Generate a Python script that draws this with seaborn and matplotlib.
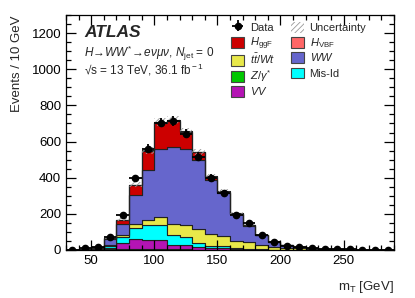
import numpy as np
import pandas as pd
import matplotlib
matplotlib.use('Agg')
import matplotlib.pyplot as plt
from matplotlib.patches import Patch, Rectangle
from matplotlib.legend_handler import HandlerPatch
from matplotlib.ticker import MultipleLocator
import seaborn as sns

# 10 GeV bins from 30 to 290 GeV
edges = np.arange(30, 300, 10)
centers = edges[:-1] + 5

# predicted events per bin
z_gamma = [0, 0.5, 2, 3, 4, 5, 5, 5, 4, 3, 2, 1.5, 1, 0.5, 0.3, 0.2, 0.1, 0.1, 0, 0, 0, 0, 0, 0, 0, 0]
vv = [0.3, 1, 3, 10, 36, 55, 50, 52, 22, 26, 14, 9, 8, 4, 2, 2, 1, 0.5, 0.3, 0.2, 0.1, 0, 0, 0, 0, 0]
mis_id = [0.3, 1, 3, 8, 32, 62, 83, 81, 55, 45, 25, 13, 13, 6, 3, 2, 1, 0.5, 0.3, 0.2, 0.1, 0, 0, 0, 0, 0]
ttbar = [0.2, 0.5, 1, 4, 11, 20, 28, 46, 62, 66, 73, 64, 57, 40, 37, 23, 16, 12, 8, 5, 3, 2, 1, 0.7, 0.4, 0.3]
ww = [1, 3, 8, 34, 59, 162, 279, 376, 429, 417, 382, 298, 234, 146, 92, 56, 28, 14, 9, 5, 3, 2, 1, 0.5, 0.3, 0.2]
h_ggf = [0, 0.2, 1, 8, 24, 55, 103, 145, 142, 96, 44, 19, 9, 5, 2, 1, 0.5, 0.3, 0.2, 0.1, 0, 0, 0, 0, 0, 0]
h_vbf = [0, 0, 0, 0.3, 1, 2, 3, 4, 4, 4, 3, 3, 2, 1.5, 1, 0.8, 0.5, 0.3, 0.2, 0.1, 0, 0, 0, 0, 0, 0]
unc = [0.5, 1, 2, 4, 8, 14, 18, 22, 22, 20, 17, 14, 11, 8, 6, 4, 3, 2, 1.5, 1, 0.8, 0.5, 0.4, 0.3, 0.2, 0.2]

data = [0, 9, 18, 74, 193, 396, 561, 705, 714, 644, 517, 401, 315, 192, 148, 83, 44, 24, 15, 9, 7, 4, 4, 0, 0, 0]

procs = {
    'H_VBF': (h_vbf, '#ff6666'),
    'H_ggF': (h_ggf, '#cc0000'),
    'WW': (ww, '#6666cc'),
    'ttbar': (ttbar, '#e8e84a'),
    'Mis-Id': (mis_id, '#00ffff'),
    'VV': (vv, '#b414b4'),
    'Z': (z_gamma, '#00c800'),
}

rows = []
for name, (vals, col) in procs.items():
    for c, v in zip(centers, vals):
        rows.append({'mt': c, 'n': v, 'proc': name})
df = pd.DataFrame(rows)

sns.set_style('ticks')
plt.rcParams['font.family'] = ['Liberation Sans', 'DejaVu Sans']
plt.rcParams['mathtext.fontset'] = 'custom'
plt.rcParams['mathtext.rm'] = 'Liberation Sans'
plt.rcParams['mathtext.it'] = 'Liberation Sans:italic'
plt.rcParams['mathtext.bf'] = 'Liberation Sans:bold'
plt.rcParams['hatch.linewidth'] = 0.6

fig = plt.figure(figsize=(4.15, 2.98), dpi=100)
ax = fig.add_axes([66 / 415, 1 - 250 / 298, 328 / 415, 235 / 298])

# first hue level ends up on top of the stack
sns.histplot(df, x='mt', weights='n', hue='proc', hue_order=list(procs.keys()),
             palette={k: v[1] for k, v in procs.items()}, multiple='stack',
             binwidth=10, binrange=(30, 290), element='step', fill=True, alpha=1,
             edgecolor='#222222', linewidth=0.8, legend=False, ax=ax)

total = np.sum([np.array(v[0]) for v in procs.values()], axis=0)
lo = total - np.array(unc)
hi = total + np.array(unc)
ax.fill_between(edges, np.r_[lo, lo[-1]], np.r_[hi, hi[-1]], step='post',
                facecolor='none', edgecolor='#999999', hatch='//////', linewidth=0)

data = np.array(data, dtype=float)
eb = ax.errorbar(centers, data, yerr=np.sqrt(data), xerr=5, fmt='o', color='black',
                 ms=4.5, elinewidth=1.3, capsize=0, zorder=10)

ax.set_axisbelow(False)
ax.set_xlim(30, 290)
ax.set_ylim(0, 1300)
ax.xaxis.set_major_locator(MultipleLocator(50))
ax.xaxis.set_minor_locator(MultipleLocator(10))
ax.yaxis.set_major_locator(MultipleLocator(200))
ax.yaxis.set_minor_locator(MultipleLocator(50))
ax.tick_params(which='both', direction='in', top=True, right=True, labelsize=9.5,
               color='black', labelcolor='black')
ax.tick_params(which='major', length=7, width=0.9)
ax.tick_params(which='minor', length=3.5, width=0.9)
for s in ax.spines.values():
    s.set_linewidth(0.9)
    s.set_color('black')
    s.set_zorder(20)

ax.set_xlabel(r'm$_{\rm T}$ [GeV]', fontsize=9.5, loc='right', labelpad=9)
ax.set_ylabel('Events / 10 GeV', fontsize=9.5, loc='top', labelpad=6)

ax.text(0.055, 0.925, 'ATLAS', transform=ax.transAxes, fontsize=12.5,
        fontweight='bold', fontstyle='italic', va='center')
ax.text(0.055, 0.835, r'$H\!\rightarrow\!WW^{*}\!\rightarrow\!e\nu\mu\nu$, $N_{\rm jet}$ = 0',
        transform=ax.transAxes, fontsize=8.5, va='center')
ax.text(0.055, 0.765, '√s = 13 TeV, 36.1 fb$^{\\rm -1}$',
        transform=ax.transAxes, fontsize=8.5, va='center')


def small_box(legend, orig_handle, xdescent, ydescent, width, height, fontsize):
    # keep boxes square-ish while the rows stay evenly spaced
    h = height * 0.72
    return Rectangle((-xdescent, -ydescent + (height - h) / 2), width, h)


def box(col):
    return Patch(facecolor=col, edgecolor='#444444', linewidth=0.8)

handles = [eb, box('#cc0000'), box('#e8e84a'), box('#00c800'), box('#b414b4'),
           Patch(facecolor='none', edgecolor='#999999', hatch='//////', linewidth=0),
           box('#ff6666'), box('#6666cc'), box('#00ffff')]
labels = ['Data', r'$H_{\rm ggF}$', r'$t\bar{t}/Wt$', r'$Z/\gamma^{*}$', r'$VV$',
          'Uncertainty', r'$H_{\rm VBF}$', r'$WW$', 'Mis-Id']
ax.legend(handles, labels, ncol=2, frameon=False, fontsize=8,
          loc='upper left', bbox_to_anchor=(231 / 415, 1 - 20 / 298),
          bbox_transform=fig.transFigure, borderpad=0, borderaxespad=0,
          handlelength=1.2, handleheight=1.72, handletextpad=0.5,
          labelspacing=0.0, columnspacing=1.4,
          handler_map={Patch: HandlerPatch(patch_func=small_box)})

fig.savefig('out.png', dpi=100)
